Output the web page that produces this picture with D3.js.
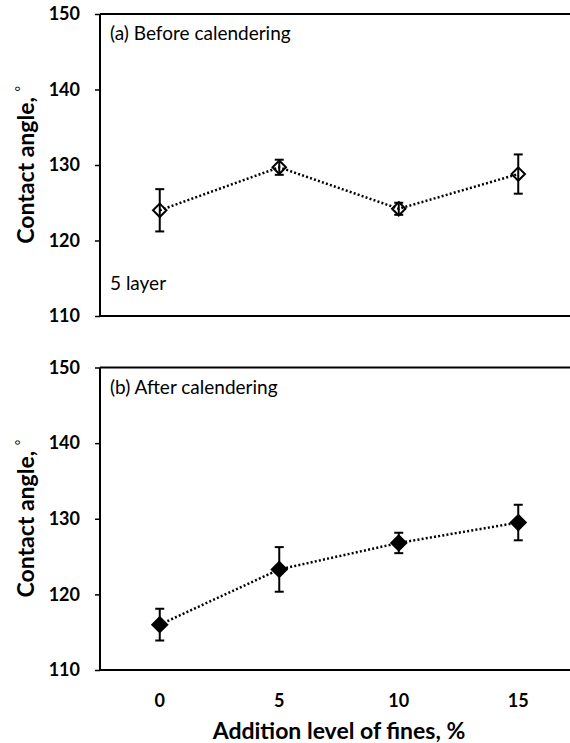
<!DOCTYPE html>
<html><head><meta charset="utf-8">
<script src="https://cdn.jsdelivr.net/npm/d3@7"></script>
<style>body{margin:0;background:#fff}svg{display:block}</style>
</head><body>
<script>
const levels = [0, 5, 10, 15];
const beforeMean = [124.0, 129.7, 124.2, 128.8];
const beforeErr = [2.8, 1.0, 0.8, 2.6];
const afterMean = [116.0, 123.3, 126.8, 129.5];
const afterErr = [2.1, 2.95, 1.35, 2.35];
const yTicks = [110, 120, 130, 140, 150];
const xTicks = [0, 5, 10, 15];

const W = 570, H = 743;
const svg = d3.select("body").append("svg").attr("width", W).attr("height", H);
const font = "Lato, 'DejaVu Sans', sans-serif";

const x = d3.scaleLinear().domain([-2.5, 17.5]).range([100, 578]);

const squareDiamond = {
  draw(ctx, size) {
    const r = Math.sqrt(size / 2);
    ctx.moveTo(0, -r); ctx.lineTo(r, 0); ctx.lineTo(0, r); ctx.lineTo(-r, 0); ctx.closePath();
  }
};

function panel(top, bottom, means, errs, filled, label, extra) {
  const y = d3.scaleLinear().domain([110, 150]).range([bottom, top]);
  const g = svg.append("g");
  g.append("line").attr("x1", 100).attr("x2", W).attr("y1", top).attr("y2", top).attr("stroke", "#000").attr("stroke-width", 2);
  g.append("line").attr("x1", 100).attr("x2", W).attr("y1", bottom).attr("y2", bottom).attr("stroke", "#000").attr("stroke-width", 2);
  const ax = g.append("g").attr("transform", "translate(100,0)")
    .call(d3.axisLeft(y).tickValues(yTicks).tickSize(5).tickFormat(d3.format("d")));
  ax.select(".domain").attr("stroke-width", 2).attr("d", `M0,${top}V${bottom}`);
  ax.selectAll(".tick line").attr("stroke-width", 1.5);
  ax.selectAll(".tick text").attr("x", -20).attr("font-family", font).attr("font-weight", "bold")
    .attr("font-size", 18).attr("fill", "#000");
  const t = svg.append("text").attr("transform", `translate(34,${(top + bottom) / 2}) rotate(-90)`)
    .attr("text-anchor", "middle").attr("font-family", font).attr("font-weight", "bold")
    .attr("font-size", 23);
  t.append("tspan").text("Contact angle, ");
  t.append("tspan").attr("font-size", 13).attr("font-weight", "normal").attr("dy", -9).text("°");
  const pts = levels.map((l, i) => [x(l), y(means[i])]);
  g.append("path").attr("d", d3.line()(pts)).attr("fill", "none").attr("stroke", "#000")
    .attr("stroke-width", 2.5).attr("stroke-dasharray", "2,2.2");
  levels.forEach((l, i) => {
    const cx = x(l), y1 = y(means[i] + errs[i]), y2 = y(means[i] - errs[i]);
    g.append("line").attr("x1", cx).attr("x2", cx).attr("y1", y1).attr("y2", y2).attr("stroke", "#000").attr("stroke-width", 2);
    [y1, y2].forEach(yy => g.append("line").attr("x1", cx - 4.5).attr("x2", cx + 4.5).attr("y1", yy).attr("y2", yy).attr("stroke", "#000").attr("stroke-width", 2));
  });
  const sym = d3.symbol().type(squareDiamond).size(filled ? 112 : 90);
  levels.forEach((l, i) => {
    g.append("path").attr("d", sym()).attr("transform", `translate(${x(l)},${y(means[i])})`)
      .attr("fill", filled ? "#000" : "#fff").attr("fill-opacity", filled ? 1 : 0)
      .attr("stroke", "#000").attr("stroke-width", 2);
  });
  g.append("text").attr("x", 110).attr("y", top + 26).attr("font-family", font).attr("font-size", 19).text(label);
  if (extra) g.append("text").attr("x", 110).attr("y", bottom - 26).attr("font-family", font).attr("font-size", 19).text(extra);
  return y;
}

panel(14, 316, beforeMean, beforeErr, false, "(a) Before calendering", "5 layer");
panel(367.5, 670, afterMean, afterErr, true, "(b) After calendering", null);

svg.selectAll(".xt").data(xTicks).enter().append("text")
  .attr("x", d => x(d)).attr("y", 707).attr("text-anchor", "middle")
  .attr("font-family", font).attr("font-weight", "bold").attr("font-size", 18).text(d => d);
svg.append("text").attr("x", x(7.5)).attr("y", 739).attr("text-anchor", "middle")
  .attr("font-family", font).attr("font-weight", "bold").attr("font-size", 23).text("Addition level of fines, %");
</script>
</body></html>
